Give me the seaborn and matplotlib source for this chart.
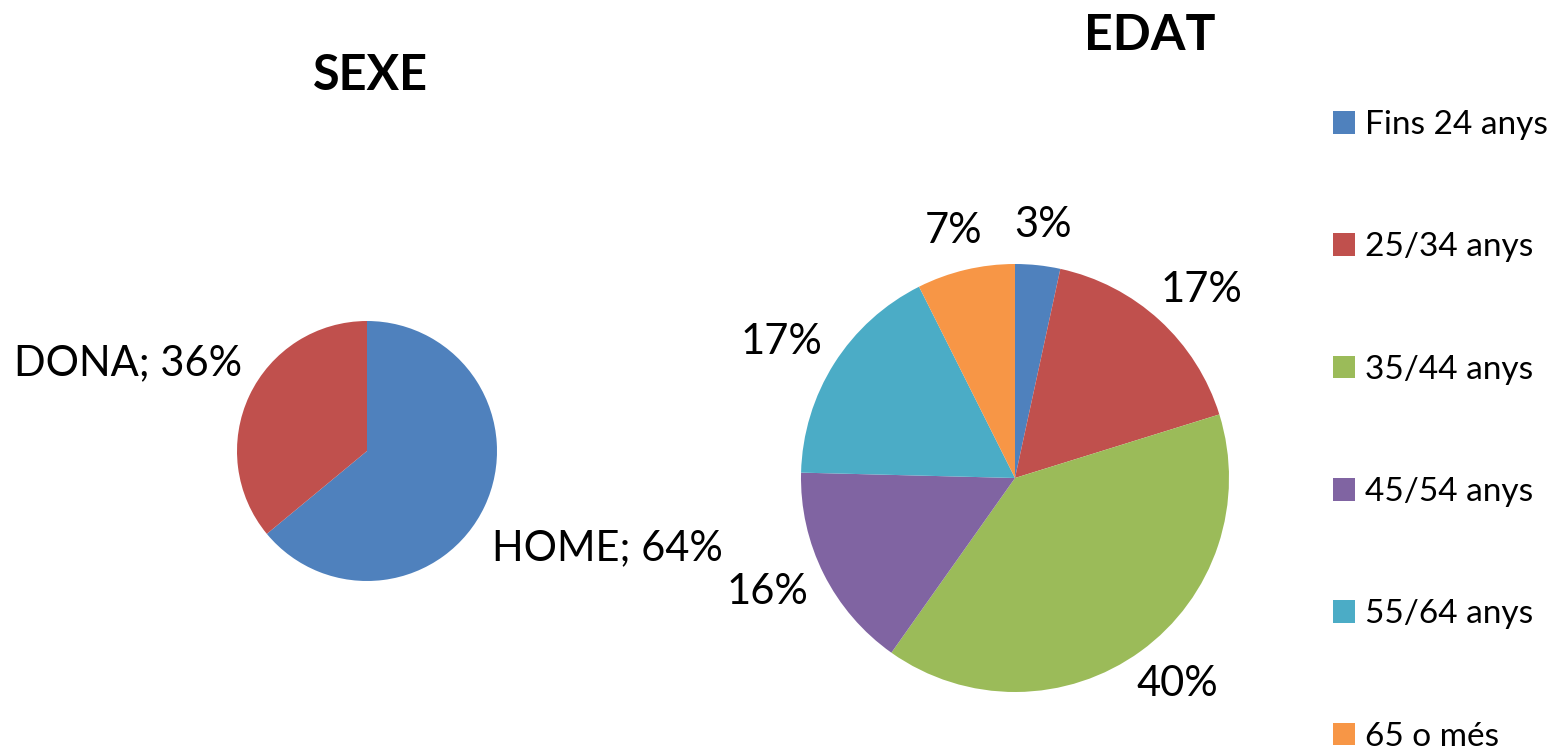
import matplotlib
matplotlib.use("Agg")
import matplotlib.pyplot as plt
import matplotlib.transforms as mtransforms
import numpy as np
import seaborn as sns

# ---- data ----
sexe_labels = ["HOME", "DONA"]
sexe_values = [64, 36]
sexe_colors = ["#4F81BD", "#C0504D"]

edat_labels = ["Fins 24 anys", "25/34 anys", "35/44 anys", "45/54 anys", "55/64 anys", "65 o més"]
edat_values = [3.4, 16.8, 39.6, 15.6, 17.2, 7.4]
edat_colors = ["#4F81BD", "#C0504D", "#9BBB59", "#8064A2", "#4BACC6", "#F79646"]

sns.set_theme(style="white")
plt.rcParams["font.family"] = ["Lato", "DejaVu Sans"]
plt.rcParams["text.color"] = "black"

W, H = 1555, 750
fig = plt.figure(figsize=(W / 100, H / 100), dpi=100)
fig.patch.set_facecolor("white")

def box(cx, cy, r):
    return [(cx - r) / W, 1 - (cy + r) / H, 2 * r / W, 2 * r / H]

# ---- SEXE pie ----
ax1 = fig.add_axes(box(367, 451, 130))
pal1 = sns.color_palette(sexe_colors)
w1, t1 = ax1.pie(sexe_values, colors=pal1, startangle=90, counterclock=False,
                 labels=[f"{l}; {v:.0f}%" for l, v in zip(sexe_labels, sexe_values)],
                 labeldistance=1.06, radius=1,
                 wedgeprops=dict(linewidth=0, edgecolor="none"),
                 textprops=dict(fontsize=30, color="black"))
for t in t1:
    x, y = t.get_position()
    if y > 0:
        t.set_verticalalignment("bottom")
        t.set_transform(mtransforms.offset_copy(ax1.transData, fig=fig, x=0, y=10, units="dots"))
    else:
        t.set_verticalalignment("top")
        t.set_transform(mtransforms.offset_copy(ax1.transData, fig=fig, x=0, y=-20, units="dots"))
ax1.set_xlim(-1, 1); ax1.set_ylim(-1, 1)
ax1.set_aspect("equal")
ax1.axis("off")

# ---- EDAT pie ----
R2 = 214
ax2 = fig.add_axes(box(1015, 478, R2))
pal2 = sns.color_palette(edat_colors)
w2, t2 = ax2.pie(edat_values, colors=pal2, startangle=90, counterclock=False,
                 labels=[f"{v:.0f}%" for v in edat_values],
                 labeldistance=1.2, radius=1,
                 wedgeprops=dict(linewidth=0, edgecolor="none"),
                 textprops=dict(fontsize=30, color="black"))
ax2.set_xlim(-1, 1); ax2.set_ylim(-1, 1)
ax2.set_aspect("equal")
ax2.axis("off")

# place labels "outside end": box edge a fixed gap outside the pie
fig.canvas.draw()
renderer = fig.canvas.get_renderer()
gap = 26
for t in t2:
    t.set_horizontalalignment("center")
    t.set_verticalalignment("center")
    x, y = t.get_position()
    ang = np.arctan2(y, x)
    bb = t.get_window_extent(renderer)
    w, h = bb.width * 0.9, bb.height * 0.75
    c, s = np.cos(ang), np.sin(ang)
    dist = R2 + gap
    px = c * dist + c * w / 2
    py = s * dist + s * h / 2
    t.set_position((px / R2, py / R2))

# ---- titles ----
fig.text(370 / W, 1 - 76 / H, "SEXE", fontsize=35, fontweight="bold",
         ha="center", va="center", color="black")
fig.text(1150 / W, 1 - 35 / H, "EDAT", fontsize=36, fontweight="bold",
         ha="center", va="center", color="black")

# ---- legend ----
fig.legend(w2, edat_labels, loc="upper left",
           bbox_to_anchor=(1333 / W, 1 - 110 / H), frameon=False,
           fontsize=24, handlelength=0.66, handleheight=0.66,
           handletextpad=0.3, labelspacing=2.77, borderpad=0, borderaxespad=0)

fig.savefig("out.png", dpi=100, facecolor="white")
